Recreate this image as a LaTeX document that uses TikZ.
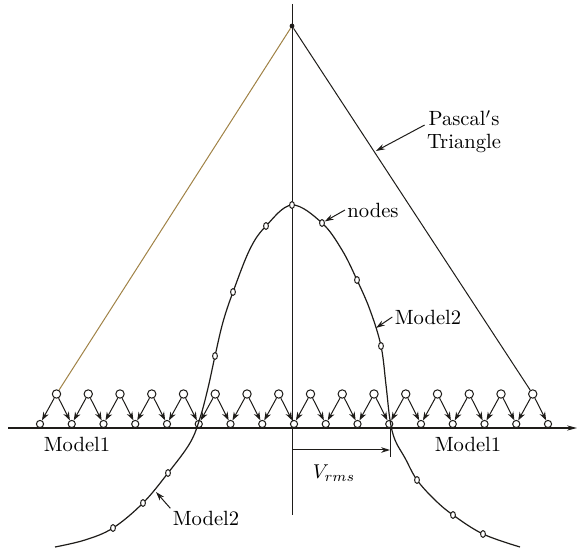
\documentclass[tikz,border=0pt]{standalone}
\usetikzlibrary{shapes,arrows.meta}

\definecolor{legtan}{RGB}{160,130,70}
\definecolor{ink}{RGB}{30,28,25}

\begin{document}
\begin{tikzpicture}[
    x=0.5pt, y=-0.5pt,
    line width=0.5pt, draw=ink,
    topnode/.style={
        circle, draw, fill=white,
        inner sep=0pt, minimum size=4.2pt
    },
    botnode/.style={
        circle, draw, fill=white,
        inner sep=0pt, minimum size=3.6pt
    },
    curvenode/.style={
        ellipse, draw, fill=white,
        inner sep=0pt, minimum width=2.4pt, minimum height=3.4pt
    },
    label style/.style={
        align=center, inner sep=1pt,
        font=\fontsize{10.3}{11.5}\selectfont
    },
    zig/.style={-{Stealth[length=4.2pt,width=3pt]}},
    pointer/.style={-{Stealth[length=4.5pt,width=2.8pt]}}
]
\useasboundingbox (0,0) rectangle (578,549);

% Axes
\coordinate (axleft) at (8,428);
\coordinate (axright) at (577,428);
\coordinate (vtop) at (292,4);
\coordinate (vbot) at (292,515);
\draw[line width=0.7pt, -{Stealth[length=5pt,width=2.6pt]}] (axleft) -- (axright);
\draw[line width=0.45pt] (vtop) -- (vbot);

% Model1 nodes
\foreach \i in {0,...,16}
    \node[botnode] (b\i) at ({40+31.75*\i},424) {};
\foreach \i in {0,...,15}
    \node[topnode] (t\i) at ({56.5+31.75*\i},394) {};

% Model1 arrows
\foreach \i in {0,...,15} {
    \pgfmathtruncatemacro{\nxt}{\i+1}
    \draw[zig] (t\i) -- (b\i);
    \draw[zig] (t\i) -- (b\nxt);
}

% Pascal's triangle
\node[circle, fill=ink, inner sep=0pt, minimum size=2.4pt] (apex) at (292,26) {};
\draw[legtan] (apex) -- (t0);
\draw (apex) -- (t15);

% Model2 curve
\draw[line width=0.6pt] plot[smooth, tension=0.6] coordinates {
    (55,547) (85,540) (113,528) (143,503) (168,473) (190,443) (200,418)
    (208,388) (215,356) (223,322) (233,292) (250,249) (266,226) (292,205)
    (322,223) (342,250) (357,280) (370,310) (381,346) (386,385) (390,420)
    (395,440) (405,458) (417,480) (435,500) (453,515) (483,534) (520,547)};

% Model2 nodes
\foreach \p [count=\k] in {(292,205),(322,223),(266,226),(233,292),(215,356),
        (357,280),(381,346),(417,480),(453,515),(483,534),(168,473),(143,503),(113,528)}
    \node[curvenode] (c\k) at \p {};

% Vrms
\coordinate (rmsstart) at (292,450);
\coordinate (rmsend) at (390,450);
\coordinate (ticktop) at (390,428);
\coordinate (tickbot) at (390,457);
\draw (ticktop) -- (tickbot);
\draw[pointer] (rmsstart) -- (rmsend);
\node[label style] (vrms) at (334,473) {$V_{rms}$};

% Labels
\node[label style] (pascal) at (464,132) {Pascal$'$s\\Triangle};
\coordinate (legpoint) at (376,151);
\draw[pointer] (pascal.170) -- (legpoint);

\node[label style] (nodes) at (373,210) {nodes};
\draw[pointer] (nodes.west) -- (c2);

\node[label style] (modeltwo) at (428,317) {Model2};
\coordinate (modeltwotip) at (376,328);
\draw[pointer] (modeltwo.west) -- (modeltwotip);

\node[label style] (modeltwobot) at (206,518) {Model2};
\coordinate (modeltwobottip) at (156,492);
\draw[pointer] (modeltwobot.north west) -- (modeltwobottip);

\node[label style] (modelone) at (77,444) {Model1};
\node[label style] (modeloneright) at (468,444) {Model1};

\end{tikzpicture}
\end{document}
